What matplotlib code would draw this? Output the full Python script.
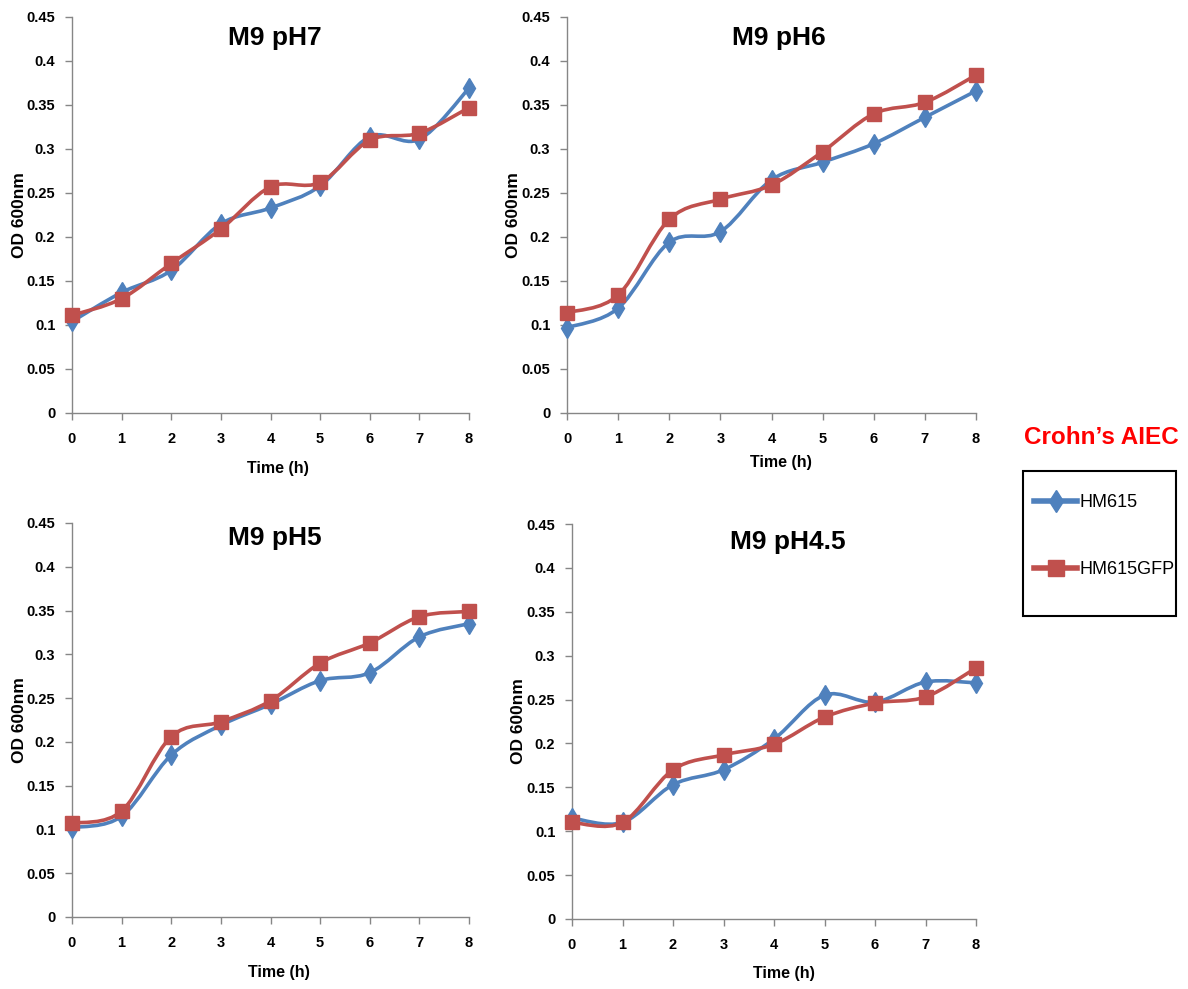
import numpy as np
import matplotlib
matplotlib.use('Agg')
import matplotlib.pyplot as plt
from matplotlib.path import Path
from matplotlib.patches import PathPatch, Rectangle
from matplotlib.lines import Line2D
from matplotlib.ticker import FuncFormatter, MultipleLocator

# data
hours = [0, 1, 2, 3, 4, 5, 6, 7, 8]
titles = ['M9 pH7', 'M9 pH6', 'M9 pH5', 'M9 pH4.5']
hm615 = [
    [0.104, 0.137, 0.162, 0.215, 0.233, 0.258, 0.314, 0.311, 0.369],
    [0.097, 0.119, 0.194, 0.206, 0.265, 0.285, 0.306, 0.336, 0.366],
    [0.102, 0.115, 0.185, 0.219, 0.243, 0.270, 0.279, 0.320, 0.335],
    [0.115, 0.110, 0.153, 0.170, 0.205, 0.255, 0.247, 0.270, 0.269],
]
hm615gfp = [
    [0.111, 0.130, 0.170, 0.209, 0.257, 0.262, 0.310, 0.318, 0.347],
    [0.114, 0.134, 0.220, 0.243, 0.259, 0.297, 0.340, 0.353, 0.384],
    [0.107, 0.121, 0.206, 0.223, 0.247, 0.290, 0.313, 0.343, 0.349],
    [0.110, 0.110, 0.170, 0.187, 0.199, 0.230, 0.246, 0.253, 0.286],
]
series_names = ['HM615', 'HM615GFP']

BLUE = '#4F81BD'
RED = '#C0504D'
AXCOL = '#868686'
FONT = 'Liberation Sans'

plt.rcParams['font.family'] = [FONT, 'DejaVu Sans']


def smooth_path(x, y):
    # Excel-style smoothed line: Catmull-Rom as cubic Beziers
    pts = np.column_stack([np.asarray(x, float), np.asarray(y, float)])
    n = len(pts)
    verts = [pts[0]]
    codes = [Path.MOVETO]
    for i in range(n - 1):
        p0 = pts[max(i - 1, 0)]
        p1 = pts[i]
        p2 = pts[i + 1]
        p3 = pts[min(i + 2, n - 1)]
        verts += [p1 + (p2 - p0) / 6.0, p2 - (p3 - p1) / 6.0, p2]
        codes += [Path.CURVE4] * 3
    return Path(verts, codes)


fig = plt.figure(figsize=(11.88, 9.89), dpi=100)
W, H = 1188, 989

# axes boxes (left, top, right, bottom) in reference pixels
boxes = [
    (72, 17, 469, 413),
    (567, 17, 976, 413),
    (72, 523, 469, 917),
    (572, 524, 976, 919),
]
title_pos = [(0.512, 0.947), (0.518, 0.947), (0.512, 0.962), (0.535, 0.954)]
ylab_x = [-0.1335, -0.1296, -0.1335, -0.132]
xlab_pos = [(0.519, -0.139), (0.523, -0.126), (0.521, -0.140), (0.525, -0.137)]

for k, (l, t, r, b) in enumerate(boxes):
    ax = fig.add_axes((l / W, 1 - b / H, (r - l) / W, (b - t) / H))
    ax.set_xlim(0, 8)
    ax.set_ylim(0, 0.45)
    for s in ['top', 'right']:
        ax.spines[s].set_visible(False)
    for s in ['left', 'bottom']:
        ax.spines[s].set_color(AXCOL)
        ax.spines[s].set_linewidth(1.0)
    ax.xaxis.set_major_locator(MultipleLocator(1))
    ax.yaxis.set_major_locator(MultipleLocator(0.05))
    ax.yaxis.set_major_formatter(FuncFormatter(lambda v, p: '%g' % round(v, 2)))
    ax.tick_params(axis='both', direction='out', length=5, width=1, color=AXCOL,
                   labelsize=10.5)
    ax.tick_params(axis='y', pad=7)
    ax.tick_params(axis='x', pad=8.5)
    for lab in ax.get_xticklabels() + ax.get_yticklabels():
        lab.set_fontweight('bold')

    for vals, col, mk, ms in [(hm615[k], BLUE, 'd', 10.5), (hm615gfp[k], RED, 's', 9.5)]:
        ax.add_patch(PathPatch(smooth_path(hours, vals), facecolor='none', edgecolor=col,
                               linewidth=2.6, clip_on=False, zorder=3))
        ax.plot(hours, vals, linestyle='none', marker=mk, markersize=ms, color=col,
                markeredgecolor=col, clip_on=False, zorder=4)

    ax.text(title_pos[k][0], title_pos[k][1], titles[k], transform=ax.transAxes,
            ha='center', va='center', fontsize=19, fontweight='bold')
    ax.set_xlabel('Time (h)', fontsize=11.5, fontweight='bold', va='center')
    ax.xaxis.set_label_coords(*xlab_pos[k])
    ax.set_ylabel('OD 600nm', fontsize=12.5, fontweight='bold', va='center')
    ax.yaxis.set_label_coords(ylab_x[k], 0.5)

# legend block on the right
fig.text(1101 / W, 1 - 437 / H, 'Crohn\u2019s AIEC', color='red', fontsize=17.5,
         fontweight='bold', ha='center', va='center')
fig.patches.append(Rectangle((1023 / W, 1 - 616 / H), 153 / W, 145 / H,
                             transform=fig.transFigure, facecolor='none',
                             edgecolor='black', linewidth=1.5))
handles = [
    Line2D([], [], color=BLUE, linewidth=4, marker='d', markersize=11.5),
    Line2D([], [], color=RED, linewidth=4, marker='s', markersize=11),
]
fig.legend(handles, series_names, loc='upper left', bbox_to_anchor=(1034 / W, 1 - 494 / H),
           frameon=False, prop={'size': 13}, handlelength=2.4,
           handletextpad=0.1, labelspacing=2.78, borderaxespad=0, borderpad=0)

fig.savefig('out.png', dpi=100)
